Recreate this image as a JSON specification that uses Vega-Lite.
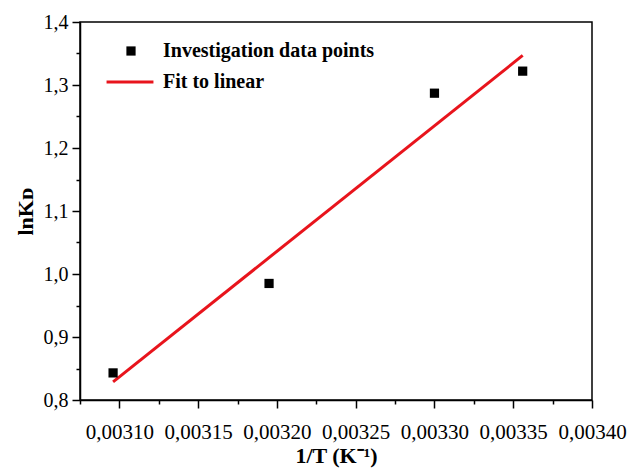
{
  "$schema": "https://vega.github.io/schema/vega-lite/v6.json",
  "autosize": {"type": "none"},
  "padding": {"left": 80, "top": 22, "right": 35, "bottom": 68},
  "width": 512,
  "height": 378,
  "background": "white",
  "config": {
    "view": {"stroke": "black", "strokeWidth": 1.5},
    "font": "Liberation Serif",
    "axis": {"labelFont": "Liberation Serif", "titleFont": "Liberation Serif", "labelColor": "black", "titleColor": "black", "domainColor": "black", "tickColor": "black", "grid": false}
  },
  "data": {"values": [
    {"invT": 0.003096, "lnKD": 0.843, "series": "Investigation data points"},
    {"invT": 0.003195, "lnKD": 0.985, "series": "Investigation data points"},
    {"invT": 0.003300, "lnKD": 1.287, "series": "Investigation data points"},
    {"invT": 0.003356, "lnKD": 1.322, "series": "Investigation data points"}
  ]},
  "layer": [
    {
      "mark": {"type": "line", "color": "#e8141c", "strokeWidth": 3},
      "transform": [{"regression": "lnKD", "on": "invT"}, {"calculate": "'Fit to linear'", "as": "fit"}],
      "encoding": {
        "x": {"field": "invT", "type": "quantitative", "scale": {"domain": [0.003075, 0.0034], "nice": false, "zero": false},
          "axis": {"values": [0.003075, 0.0031, 0.003125, 0.00315, 0.003175, 0.0032, 0.003225, 0.00325, 0.003275, 0.0033, 0.003325, 0.00335, 0.003375, 0.0034],
            "tickCount": 40,
            "format": ".6f",
            "labelExpr": "round(datum.value * 40000) % 2 == 1 ? '' : replace(format(datum.value, '.5f'), '.', ',')",
            "tickSize": {"condition": {"test": "round(datum.value * 40000) % 2 == 1", "value": 4}, "value": 8},
            "labelFontSize": 21, "tickWidth": 1.5, "domainWidth": 1.5, "labelPadding": 13, "title": "1/T (K⁻¹)", "titleFontSize": 22, "titleFontWeight": "bold", "titlePadding": 3, "labelFlush": false, "labelOverlap": false}},
        "y": {"field": "lnKD", "type": "quantitative", "scale": {"domain": [0.8, 1.4], "nice": false, "zero": false},
          "axis": {"values": [0.8, 0.85, 0.9, 0.95, 1.0, 1.05, 1.1, 1.15, 1.2, 1.25, 1.3, 1.35, 1.4],
            "tickCount": 40,
            "format": ".2f",
            "labelExpr": "round(datum.value * 20) % 2 == 1 ? '' : replace(format(datum.value, '.1f'), '.', ',')",
            "tickSize": {"condition": {"test": "round(datum.value * 20) % 2 == 1", "value": 4}, "value": 8},
            "labelFontSize": 20, "tickWidth": 1.5, "domainWidth": 1.5, "labelPadding": 4, "title": "lnKᴅ", "titleFontSize": 22, "titleFontWeight": "bold", "titlePadding": 6, "labelFlush": false, "labelOverlap": false}},
        "stroke": {"field": "fit", "type": "nominal", "scale": {"range": ["#e8141c"]},
          "legend": {"title": null, "orient": "none", "legendX": 25, "legendY": 35, "symbolType": "stroke", "symbolSize": 2200, "symbolStrokeWidth": 3, "labelFontSize": 20, "labelFontWeight": "bold", "labelFont": "Liberation Serif", "labelColor": "black", "labelOffset": 8, "labelLimit": 400}}
      }
    },
    {
      "mark": {"type": "point", "shape": "square", "filled": true, "color": "black", "size": 85, "opacity": 1},
      "encoding": {
        "x": {"field": "invT", "type": "quantitative"},
        "y": {"field": "lnKD", "type": "quantitative"},
        "shape": {"field": "series", "type": "nominal", "scale": {"range": ["square"]},
          "legend": {"title": null, "orient": "none", "legendX": 41, "legendY": 19, "symbolSize": 85, "symbolFillColor": "black", "symbolStrokeColor": "black", "symbolOpacity": 1, "labelFontSize": 20, "labelFontWeight": "bold", "labelFont": "Liberation Serif", "labelColor": "black", "labelOffset": 22, "labelLimit": 400}}
      }
    }
  ]
}
